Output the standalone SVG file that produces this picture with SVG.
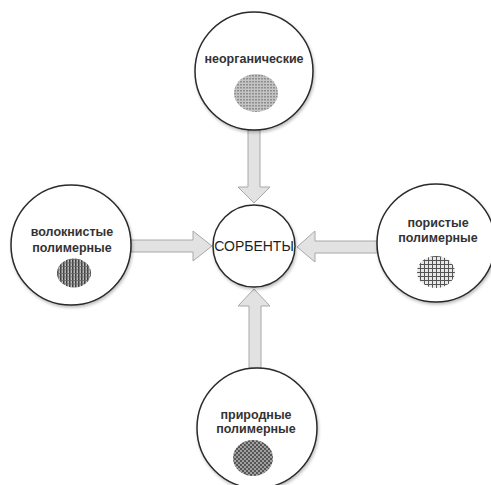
<svg xmlns="http://www.w3.org/2000/svg" width="491" height="485" viewBox="0 0 491 485">
<style>
.node{fill:#fff;stroke:#2a2a2a;stroke-width:1.5}
.lbl{font-family:"Liberation Sans",Arial,sans-serif;font-size:12.5px;font-weight:bold;fill:#333;text-anchor:middle}
.ctr{font-family:"Liberation Sans",Arial,sans-serif;font-size:14px;fill:#1e1e1e;text-anchor:middle}
.arr{fill:#e2e2e2;stroke:#a8a8a8;stroke-width:1}
</style>
<defs>
<filter id="sh" x="-20%" y="-20%" width="140%" height="140%">
<feDropShadow dx="1" dy="2" stdDeviation="1.5" flood-color="#000" flood-opacity="0.25"/>
</filter>
<pattern id="pDots" width="3" height="3" patternUnits="userSpaceOnUse">
<rect width="3" height="3" fill="#c4c4c4"/>
<rect width="2" height="1.5" fill="#8f8f8f"/>
</pattern>
<pattern id="pFiber" width="3" height="3.5" patternUnits="userSpaceOnUse">
<rect width="3" height="3.5" fill="#bdbdbd"/>
<rect x="0" width="1.5" height="3.5" fill="#3e3e3e"/>
<rect y="0" width="3" height="0.8" fill="#6a6a6a"/>
</pattern>
<pattern id="pGrid" width="4" height="4" patternUnits="userSpaceOnUse">
<rect width="4" height="4" fill="#e8e8e8"/>
<rect x="0" width="1" height="4" fill="#555"/>
<rect y="0" width="4" height="1" fill="#555"/>
</pattern>
<pattern id="pCheck" width="4" height="4" patternUnits="userSpaceOnUse">
<rect width="4" height="4" fill="#a0a0a0"/>
<circle cx="1" cy="1" r="1" fill="#3c3c3c"/>
<circle cx="3" cy="3" r="1" fill="#3c3c3c"/>
</pattern>
</defs>
<rect width="491" height="485" fill="#fff"/>
<g id="connectors">
<polygon class="arr" points="248,130 260,130 260,187 270,187 254,203 238,187 248,187"/>
<polygon class="arr" points="131,240 131,252 193,252 193,261 212,246 193,231 193,240"/>
<polygon class="arr" points="377,241 377,253 315,253 315,262 297,247 315,231 315,241"/>
<polygon class="arr" points="249,368 261,368 261,306 270,306 254,289 238,306 249,306"/>
</g>
<g id="center">
<circle class="node" cx="254" cy="246" r="41" filter="url(#sh)"/>
<text class="ctr" x="254" y="251">СОРБЕНТЫ</text>
</g>
<g id="top">
<circle class="node" cx="254" cy="71" r="59" filter="url(#sh)"/>
<text class="lbl" x="254" y="63">неорганические</text>
<ellipse cx="256" cy="93" rx="22" ry="19" fill="url(#pDots)"/>
</g>
<g id="left">
<circle class="node" cx="71" cy="245" r="60" filter="url(#sh)"/>
<text class="lbl" x="72" y="236">волокнистые</text>
<text class="lbl" x="72" y="252">полимерные</text>
<ellipse cx="74" cy="273" rx="17" ry="14.5" fill="url(#pFiber)"/>
</g>
<g id="right">
<circle class="node" cx="436" cy="243" r="59" filter="url(#sh)"/>
<text class="lbl" x="438" y="227">пористые</text>
<text class="lbl" x="438" y="242">полимерные</text>
<ellipse cx="436" cy="272" rx="19" ry="16" fill="url(#pGrid)"/>
</g>
<g id="bottom">
<circle class="node" cx="257" cy="428" r="60" filter="url(#sh)"/>
<text class="lbl" x="256" y="419">природные</text>
<text class="lbl" x="256" y="433">полимерные</text>
<ellipse cx="253" cy="458" rx="20" ry="18" fill="url(#pCheck)"/>
</g>
</svg>
